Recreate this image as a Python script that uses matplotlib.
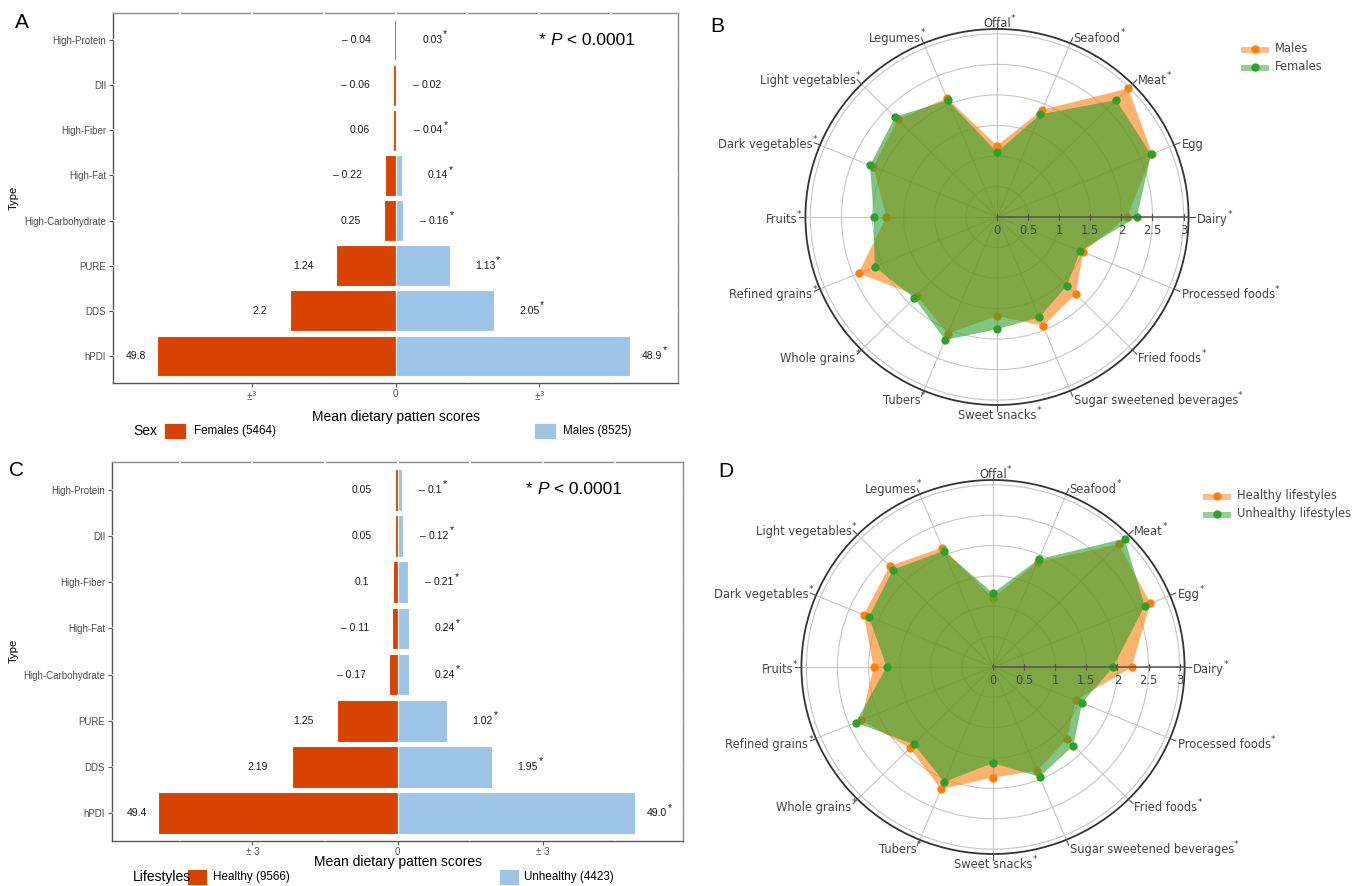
import numpy as np
import matplotlib
matplotlib.use("Agg")
import matplotlib.pyplot as plt
import matplotlib.transforms as mtransforms
from matplotlib.patches import Rectangle
from matplotlib.lines import Line2D

W, H = 1366, 886
plt.rcParams["font.family"] = ["Liberation Sans", "DejaVu Sans"]
fig = plt.figure(figsize=(W / 100, H / 100), dpi=100)


def fx(x):
    return x / W


def fy(y):
    return 1 - y / H


# ---------------- data: dietary pattern scores ----------------
score_types = ["hPDI", "DDS", "PURE", "High-Carbohydrate", "High-Fat",
               "High-Fiber", "DII", "High-Protein"]
females = [49.8, 2.2, 1.24, 0.25, -0.22, 0.06, -0.06, -0.04]
males = [48.9, 2.05, 1.13, -0.16, 0.14, -0.04, -0.02, 0.03]
males_sig = [True, True, True, True, True, True, False, True]
healthy = [49.4, 2.19, 1.25, -0.17, -0.11, 0.1, 0.05, 0.05]
unhealthy = [49.0, 1.95, 1.02, 0.24, 0.24, -0.21, -0.12, -0.1]
unhealthy_sig = [True, True, True, True, True, True, True, True]
n_females, n_males = 5464, 8525
n_healthy, n_unhealthy = 9566, 4423

# ---------------- data: food group intake ----------------
foods = ["Offal", "Seafood", "Meat", "Egg", "Dairy", "Processed foods",
         "Fried foods", "Sugar sweetened beverages", "Sweet snacks", "Tubers",
         "Whole grains", "Refined grains", "Fruits", "Dark vegetables",
         "Light vegetables", "Legumes"]
males_food = [1.17, 1.90, 2.98, 2.70, 2.09, 1.50, 1.79, 1.93, 1.62, 2.07,
              1.82, 2.41, 1.78, 2.15, 2.26, 2.11]
females_food = [1.06, 1.82, 2.71, 2.68, 2.25, 1.45, 1.59, 1.78, 1.84, 2.18,
                1.88, 2.13, 1.98, 2.21, 2.32, 2.07]
sex_food_sig = [True, True, True, False, True, True, True, True, True, True,
                True, True, True, True, True, True]
healthy_food = [1.14, 1.87, 2.86, 2.74, 2.23, 1.44, 1.68, 1.85, 1.82, 2.18,
                1.89, 2.29, 1.92, 2.25, 2.35, 2.13]
unhealthy_food = [1.22, 1.92, 2.99, 2.64, 1.93, 1.55, 1.83, 1.96, 1.58, 2.05,
                  1.80, 2.39, 1.71, 2.16, 2.27, 2.07]
lifestyle_food_sig = [True] * 16

RED = "#D84300"
BLUE = "#9DC3E6"
ORANGE = "#ff7f0e"
GREEN = "#2ca02c"
GREY_TXT = "#4d4d4d"
NARROW = ["Liberation Sans Narrow", "Liberation Sans", "DejaVu Sans"]


def fmt_value(v, t):
    return f"{abs(v):.1f}" if t == "hPDI" else f"{abs(v):g}"


def bar_panel(box, left_vals, right_vals, right_sig, tick3, ptxt_x):
    l, r, t, b = box
    ax = fig.add_axes([fx(l), fy(b), fx(r - l), (b - t) / H])
    y = np.arange(len(score_types))
    # hPDI is drawn at one tenth of its score so that it fits the shared axis
    scale = np.array([0.1 if s == "hPDI" else 1.0 for s in score_types])
    lmag = np.abs(left_vals) * scale
    rmag = np.abs(right_vals) * scale
    ax.barh(y, -lmag, height=0.9, color=RED, edgecolor="white", lw=0.8, zorder=2)
    ax.barh(y, rmag, height=0.9, color=BLUE, edgecolor="white", lw=0.8, zorder=2)
    ax.set_xlim(-5.9, 5.9)
    ax.set_ylim(-0.6, 7.6)

    for yi, s, v, m in zip(y, score_types, left_vals, lmag):
        gap = 0.23 if m > 3 else 0.48
        txt = ("– " if v < 0 else "") + fmt_value(v, s)
        ax.text(-(m + gap), yi, txt, ha="right", va="center", fontsize=7.5,
                color="#1a1a1a", zorder=5)
    for yi, s, v, m, sg in zip(y, score_types, right_vals, rmag, right_sig):
        gap = 0.25 if m > 3 else 0.53
        num = ax.text(m + gap, yi, fmt_value(v, s), ha="left", va="center",
                      fontsize=7.5, color="#1a1a1a", zorder=5)
        if v < 0:
            ax.annotate("– ", xy=(0, 0.5), xycoords=num, ha="right", va="center",
                        fontsize=7.5, color="#1a1a1a")
        if sg:
            ax.annotate("*", xy=(1.04, 0.55), xycoords=num, ha="left", va="bottom",
                        fontsize=7.5, color="#1a1a1a")

    # "* P < 0.0001"
    tr = mtransforms.blended_transform_factory(ax.transAxes, ax.transData)
    p1 = ax.text(ptxt_x, 7, "* ", transform=tr, ha="left", va="center",
                 fontsize=12.5, family=NARROW)
    p2 = ax.annotate("P", xy=(1, 0.5), xycoords=p1, ha="left", va="center",
                     fontsize=12.5, family=NARROW, style="italic")
    ax.annotate(" < 0.0001", xy=(1, 0.5), xycoords=p2, ha="left", va="center",
                fontsize=12.5, family=NARROW)

    ax.set_yticks(y)
    ax.set_yticklabels(score_types, fontsize=7, color=GREY_TXT)
    ax.set_xticks([-3, 0, 3])
    ax.set_xticklabels([tick3, "0", tick3], fontsize=7, color=GREY_TXT)
    ax.set_xticks([-4.5, -1.5, 1.5, 4.5], minor=True)
    ax.tick_params(which="major", length=3, width=0.8, color="#555555", pad=2)
    ax.tick_params(axis="x", which="major", pad=1.5)
    ax.tick_params(which="minor", length=0)
    ax.set_axisbelow(True)
    ax.grid(True, which="both", color="white", lw=1.1)
    for side, sp in ax.spines.items():
        sp.set_zorder(0.2)
        sp.set_linewidth(1.0)
        sp.set_color("#555555" if side in ("left", "bottom") else "#8c8c8c")
    return ax


def bar_legend(y, title, title_x, left_lbl, left_sw, left_tx, right_lbl, right_sw, right_tx):
    fig.text(fx(title_x), fy(y), title, ha="left", va="center", fontsize=10)
    for (x0, x1), col in ((left_sw, RED), (right_sw, BLUE)):
        fig.patches.append(Rectangle((fx(x0), fy(y + 8)), fx(x1 - x0), 16 / H,
                                     transform=fig.transFigure, facecolor=col,
                                     edgecolor="white", lw=0.6))
    fig.text(fx(left_tx), fy(y), left_lbl, ha="left", va="center", fontsize=8.4)
    fig.text(fx(right_tx), fy(y), right_lbl, ha="left", va="center", fontsize=8.4)


# ---------------- panel A ----------------
bar_panel((113, 678, 13, 383), females, males, males_sig, "±$^{3}$", 0.754)
fig.text(fx(14), fy(198), "Type", rotation=90, ha="center", va="center", fontsize=8)
fig.text(fx(396), fy(417), "Mean dietary patten scores", ha="center", va="center", fontsize=10)
bar_legend(431, "Sex", 133, f"Females ({n_females})", (164, 186), 194,
           f"Males ({n_males})", (534, 556), 563)

# ---------------- panel C ----------------
bar_panel((112, 683, 462, 841), healthy, unhealthy, unhealthy_sig, "± 3", 0.725)
fig.text(fx(14), fy(651), "Type", rotation=90, ha="center", va="center", fontsize=8)
fig.text(fx(398), fy(862), "Mean dietary patten scores", ha="center", va="center", fontsize=10)
bar_legend(877, "Lifestyles", 133, f"Healthy ({n_healthy})", (187, 207), 213,
           f"Unhealthy ({n_unhealthy})", (499, 519), 524)


# ---------------- radar panels ----------------
RMAX = 3.08
PX_PER_UNIT = 62.2
RAD_TXT = "#444444"


def radar(center, v_radius, a_vals, b_vals, stars):
    cx, cy = center
    h_radius = RMAX * PX_PER_UNIT
    ax = fig.add_axes([fx(cx - h_radius), fy(cy + v_radius), 2 * h_radius / W,
                       2 * v_radius / H], projection="polar")
    ax.set_aspect("auto")
    ax.set_theta_offset(np.pi / 2)
    ax.set_theta_direction(-1)
    n = len(foods)
    th = np.arange(n) * 2 * np.pi / n
    ax.set_ylim(0, RMAX)
    ax.set_xticks(th)
    ax.set_xticklabels([])
    ax.set_yticks(np.arange(0.5, 3.01, 0.5))
    ax.set_yticklabels([])
    ax.tick_params(length=0)
    ax.grid(True, color="#c6c6c6", lw=0.8)
    ax.spines["polar"].set_color("#333333")
    ax.spines["polar"].set_linewidth(1.3)

    thc = np.append(th, th[0])
    a = np.append(a_vals, a_vals[0])
    b = np.append(b_vals, b_vals[0])
    ax.fill(thc, a, color=ORANGE, alpha=0.6, lw=0, zorder=2)
    ax.plot(th, a_vals, "o", color=ORANGE, ms=5, zorder=3)
    ax.fill(thc, b, color=GREEN, alpha=0.6, lw=0, zorder=4)
    ax.plot(th, b_vals, "o", color=GREEN, ms=5, zorder=5)

    # radial axis along the Dairy spoke
    k = foods.index("Dairy")
    rt = np.arange(0, 3.01, 0.5)
    ax.plot([th[k], th[k]], [0, RMAX], color="#555555", lw=1.1, zorder=6)
    ax.plot([th[k]] * len(rt), rt, ls="none", marker="|", ms=5, mew=0.9,
            color="#555555", zorder=6)
    for r in rt:
        ax.annotate(f"{r:g}", xy=(th[k], r), xytext=(0, -5), textcoords="offset points",
                    ha="center", va="top", fontsize=8.3, color=RAD_TXT,
                    family="DejaVu Sans", zorder=7)

    # angular tick marks and category labels
    for i, (name, st) in enumerate(zip(foods, stars)):
        ang = np.pi / 2 - th[i]
        c, s = np.cos(ang), np.sin(ang)
        ax.plot([th[i], th[i]], [RMAX, RMAX * 1.032], color="#555555", lw=0.8,
                clip_on=False, zorder=6)
        ha = "left" if c > 0.2 else ("right" if c < -0.2 else "center")
        off = 6.0  # points beyond the frame
        t = ax.annotate(name, xy=(th[i], RMAX), xytext=(off * c, off * s - 1.8),
                        textcoords="offset points", ha=ha, va="center", fontsize=8.3,
                        color=RAD_TXT, family="DejaVu Sans", annotation_clip=False)
        if st:
            ax.annotate("*", xy=(1.0, 0.55), xycoords=t, ha="left", va="bottom",
                        fontsize=6.5, color=RAD_TXT, family="DejaVu Sans")
    return ax


def radar_legend(sw_x, tx, rows, labels):
    for y, lbl, col in zip(rows, labels, (ORANGE, GREEN)):
        fig.patches.append(Rectangle((fx(sw_x[0]), fy(y + 5)), fx(sw_x[1] - sw_x[0]), 6 / H,
                                     transform=fig.transFigure, facecolor=col,
                                     alpha=0.5, lw=0))
        fig.lines.append(Line2D([fx((sw_x[0] + sw_x[1]) / 2)], [fy(y + 1)],
                                transform=fig.transFigure, marker="o", ms=5,
                                color=col, ls="none"))
        fig.text(fx(tx), fy(y), lbl, ha="left", va="center", fontsize=8.3,
                 color=RAD_TXT, family="DejaVu Sans")


radar((997, 217), 188, males_food, females_food, sex_food_sig)
radar_legend((1241, 1269), 1275, (48, 66), ("Males", "Females"))

radar((993, 667), 187, healthy_food, unhealthy_food, lifestyle_food_sig)
radar_legend((1203, 1231), 1237, (495, 513), ("Healthy lifestyles", "Unhealthy lifestyles"))

# panel letters
for letter, (x, y) in {"A": (22, 22), "B": (717, 27), "C": (17, 470), "D": (726, 472)}.items():
    fig.text(fx(x), fy(y), letter, ha="center", va="center", fontsize=15, family=NARROW)

fig.savefig("out.png", dpi=100)
